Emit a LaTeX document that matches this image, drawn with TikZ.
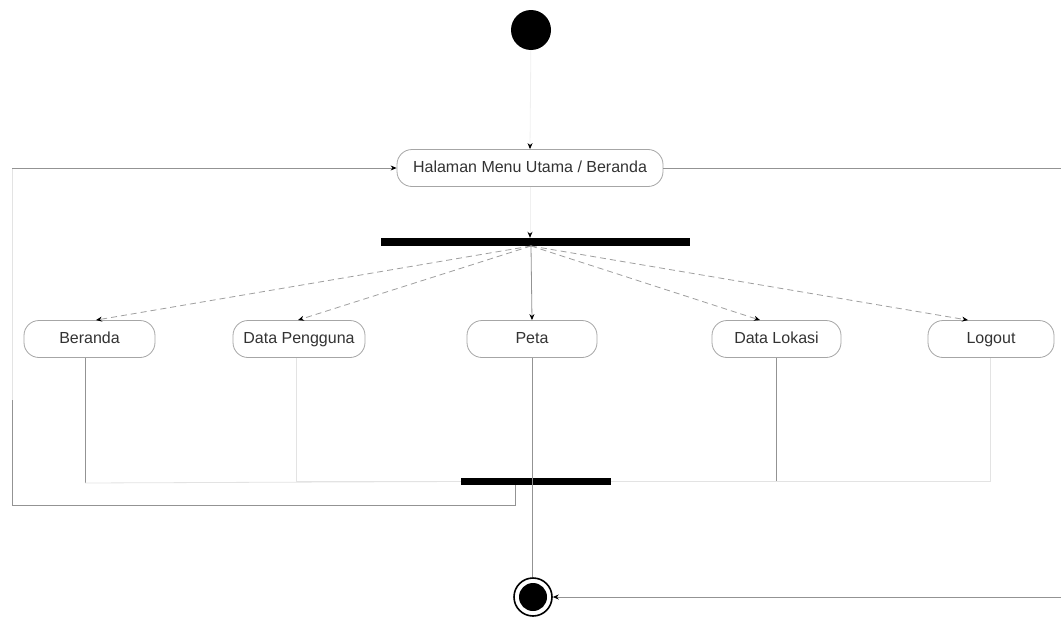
\documentclass[tikz,border=0pt]{standalone}
\usepackage{fontspec}
\setmainfont{Liberation Sans}
\usetikzlibrary{arrows.meta}
\begin{document}
\begin{tikzpicture}[x=1pt,y=-1pt,
  act/.style={draw=gray!70, line width=0.8pt, rounded corners=15pt, minimum height=37pt, inner sep=0pt, text height=11.5pt, text depth=3.5pt, font=\fontsize{16}{18}\selectfont, text=black!80},
  barnode/.style={fill=black, inner sep=0pt},
  ln/.style={draw=gray!85, line width=0.8pt},
  faint/.style={draw=gray!22, line width=0.8pt},
  tip/.style={-{Stealth[black,length=6pt,width=5pt]}},
  dashln/.style={draw=gray!75, line width=0.8pt, dash pattern=on 6pt off 4pt}
]
\useasboundingbox (0,0) rectangle (1061,621);
\fill[white] (0,0) rectangle (1061,621);

\node[circle, fill=black, minimum size=40pt, inner sep=0pt] (start) at (531,30) {};
\node[act, minimum width=266pt] (menu) at (530,168) {Halaman Menu Utama / Beranda};
\node[barnode, minimum width=309pt, minimum height=8pt] (fork) at (535.5,242) {};

\node[act, minimum width=131pt] (beranda) at (89.5,339) {Beranda};
\node[act, minimum width=132pt] (pengguna) at (299,339) {Data Pengguna};
\node[act, minimum width=130pt] (peta) at (532,339) {Peta};
\node[act, minimum width=129pt] (lokasi) at (776.5,339) {Data Lokasi};
\node[act, minimum width=126pt] (logout) at (991,339) {Logout};

\node[barnode, minimum width=150pt, minimum height=7pt] (join) at (536,481.5) {};

\node[circle, draw=black, line width=1.6pt, minimum size=38pt, inner sep=0pt] (final) at (533,597) {};
\fill[black] (final.center) circle (14pt);

\coordinate (fo) at (531,246);
\coordinate (Lt) at (12,168);
\coordinate (Rt) at (1061,168);
\coordinate (Rb) at (1061,597);

% start -> menu, menu -> fork
\draw[draw=gray!12, line width=0.8pt, tip] (start) -- (menu.north);
\draw[draw=gray!12, line width=0.8pt, tip] (menu.south) -- (fork.north -| menu.south);

% fork -> activities
\draw[dashln, tip] (fo) -- (beranda.north -| 96,0);
\draw[dashln, tip] (fo) -- (pengguna.north -| 298,0);
\draw[ln, tip] (fo) -- (peta.north);
\draw[dashln, tip] (fo) -- (lokasi.north -| 760,0);
\draw[dashln, tip] (fo) -- (logout.north -| 968,0);

% activities -> join
\draw[ln] (beranda.south -| 85,0) -- (85,483);
\draw[faint] (85,483) -- (join.west);
\draw[faint] (pengguna.south -| 296,0) |- (join.west);
\draw[ln] (lokasi.south) -- (lokasi.south |- join);
\draw[faint] (lokasi.south |- join) -- (join.east);
\draw[faint] (logout.south -| 990,0) |- (join.east);

% peta -> final
\draw[ln] (peta.south) -- (final.north -| peta.south);

% join -> menu (loop)
\draw[ln] (join.south -| 515,0) -- (515,505) -- (12,505) -- (12,400);
\draw[faint] (12,400) -- (Lt);
\draw[ln, tip] (Lt) -- (menu.west);

% menu -> final (right side)
\draw[ln] (menu.east) -- (Rt);
\draw[ln, tip] (Rb) -- (final.east);
\end{tikzpicture}
\end{document}
